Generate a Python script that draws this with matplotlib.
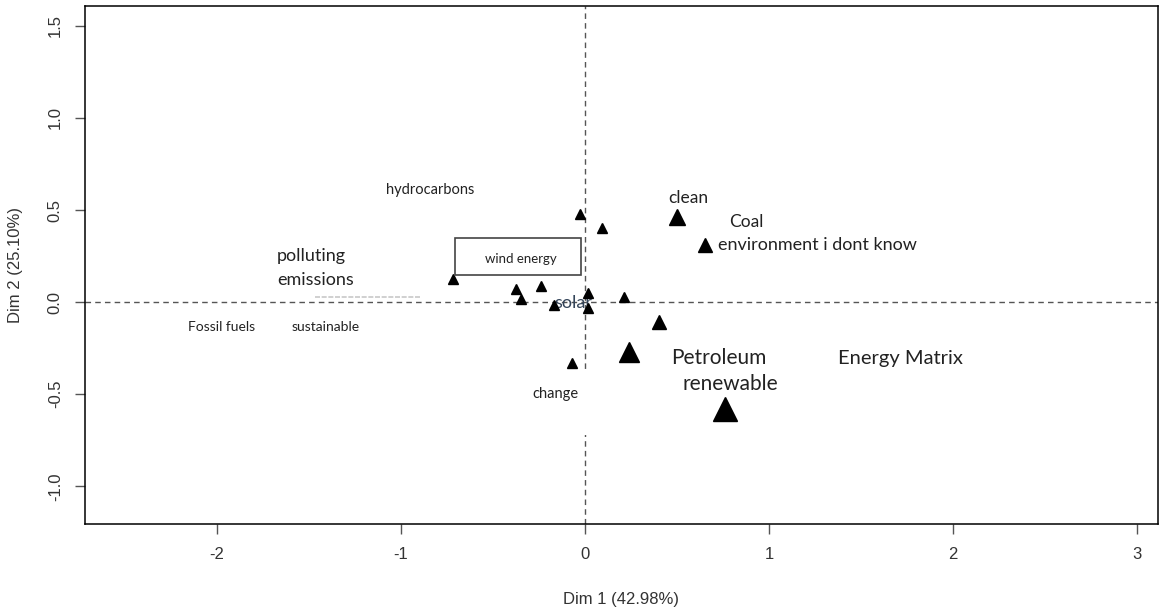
import matplotlib.pyplot as plt
from matplotlib.patches import Rectangle

# factor map points (Dim 1, Dim 2) and marker sizes
dim1 = [-0.03, 0.09, -0.72, -0.375, -0.24, -0.35, -0.17, 0.015, 0.015, 0.21,
        -0.07, 0.24, 0.50, 0.65, 0.40, 0.76]
dim2 = [0.48, 0.40, 0.125, 0.07, 0.087, 0.016, -0.016, 0.05, -0.03, 0.03,
        -0.33, -0.27, 0.46, 0.31, -0.11, -0.58]
msize = [6.5, 6.5, 6.5, 6.5, 6.5, 6.5, 6.5, 6.5, 6.5, 6.5,
         6.5, 14, 11.5, 10, 10.5, 17]

# word labels: text, x, y, fontsize
labels = ["hydrocarbons", "clean", "Coal", "environment i dont know",
          "polluting", "emissions", "Fossil fuels", "sustainable",
          "change", "Petroleum", "renewable", "Energy Matrix"]
lab_x = [-0.842, 0.560, 0.875, 1.264, -1.486, -1.465, -1.978, -1.408,
         -0.163, 0.728, 0.788, 1.712]
lab_y = [0.609, 0.565, 0.435, 0.31, 0.25, 0.12, -0.136, -0.136,
         -0.50, -0.304, -0.446, -0.304]
lab_fs = [10.5, 12.5, 12.5, 13, 13, 13, 10, 10, 10.5, 15, 15, 14.5]

plt.rcParams['font.family'] = ['Liberation Sans', 'DejaVu Sans']
plt.rcParams['axes.unicode_minus'] = False
fig = plt.figure(figsize=(11.65, 6.12), dpi=100)
ax = fig.add_axes([0.073, 0.143, 0.9206, 0.848])
ax.set_xlim(-2.717, 3.11)
ax.set_ylim(-1.207, 1.61)

ax.axhline(0, color="#555555", lw=1, ls=(0, (4, 3)), zorder=1)
ax.axvline(0, color="#555555", lw=1, ls=(0, (4, 3)), zorder=1)

for x, y, m in zip(dim1, dim2, msize):
    ax.plot(x, y, marker="^", ms=m, color="black", mec="black", mew=1,
            ls="none", zorder=3)

# pasted-over patch hiding part of the vertical axis line
ax.add_patch(Rectangle((-0.30, -0.723), 0.33, 0.343, facecolor="white",
                       edgecolor="none", zorder=2))
# boxed label
ax.add_patch(Rectangle((-0.707, 0.147), 0.685, 0.201, facecolor="white",
                       edgecolor="#444444", lw=1.2, zorder=4))
ax.text(-0.348, 0.234, "wind energy", fontsize=9.5, color="#222222",
        ha="center", va="center", family=["Lato", "DejaVu Sans"], zorder=5)

# faint leftover text line
ax.plot([-1.467, -0.897], [0.027, 0.027], color="#c8c8c8", lw=1.2,
        ls=(0, (3, 1)), zorder=2)

for t, x, y, fs in zip(labels, lab_x, lab_y, lab_fs):
    ax.text(x, y, t, fontsize=fs, color="#222222", ha="center", va="center",
            family=["Lato", "DejaVu Sans"], zorder=5)
ax.text(-0.0625, -0.004, "solar", fontsize=13, color="#34455a", ha="center",
        va="center", family=["Lato", "DejaVu Sans"], zorder=2.5)

ax.set_xticks([-2, -1, 0, 1, 2, 3])
ax.set_yticks([-1.0, -0.5, 0.0, 0.5, 1.0, 1.5])
ax.set_yticklabels(["-1.0", "-0.5", "0.0", "0.5", "1.0", "1.5"], rotation=90,
                   va="center")
ax.tick_params(axis="both", length=7, width=1, color="#555555",
               labelsize=12, labelcolor="#333333", pad=9)
for s in ax.spines.values():
    s.set_linewidth(1.1)
ax.set_xlabel("Dim 1 (42.98%)", fontsize=12, color="#333333", labelpad=22)
ax.set_ylabel("Dim 2 (25.10%)", fontsize=12, color="#333333", labelpad=18)

fig.savefig("out.png", dpi=100)
